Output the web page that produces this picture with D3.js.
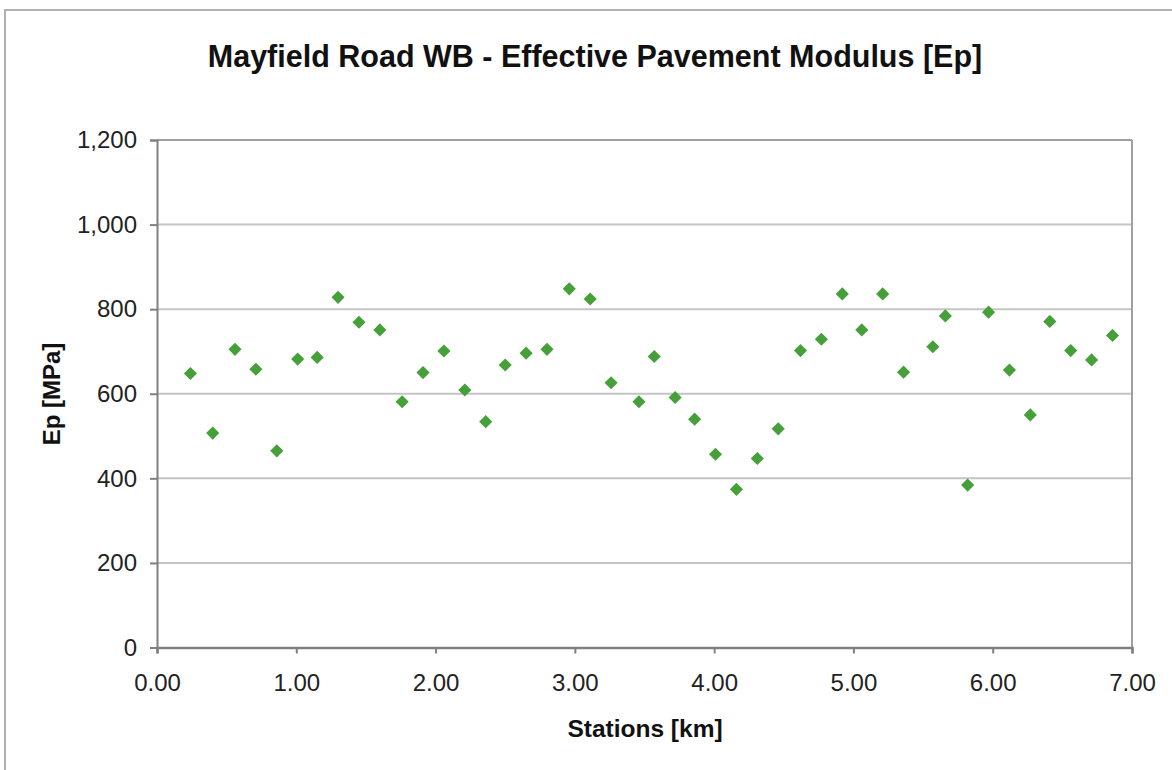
<!DOCTYPE html>
<html>
<head>
<meta charset="utf-8">
<script src="https://cdn.jsdelivr.net/npm/d3@7"></script>
<style>
  html, body { margin: 0; padding: 0; background: #fff; }
  svg { display: block; font-family: "Liberation Sans", Arial, sans-serif; }
</style>
</head>
<body>
<svg id="chart" width="1172" height="770"></svg>
<script>
const titleText = "Mayfield Road WB - Effective Pavement Modulus [Ep]";
const xAxisTitle = "Stations [km]";
const yAxisTitle = "Ep [MPa]";

const stations = [0.24,0.40,0.56,0.71,0.86,1.01,1.15,1.30,1.45,1.60,1.76,1.91,2.06,2.21,2.36,2.50,2.65,2.80,2.96,3.11,3.26,3.46,3.57,3.72,3.86,4.01,4.16,4.31,4.46,4.62,4.77,4.92,5.06,5.21,5.36,5.57,5.66,5.82,5.97,6.12,6.27,6.41,6.56,6.71,6.86];
const epValues = [648,507,705,658,465,682,686,828,769,751,581,650,701,609,534,668,696,705,848,824,626,581,688,591,540,457,374,447,517,702,729,836,751,836,651,711,784,384,793,656,550,771,702,680,738];

const xTicks = [0,1,2,3,4,5,6,7];
const yTicks = [0,200,400,600,800,1000,1200];

const svg = d3.select("#chart");
const plot = { left: 157, right: 1132, top: 140, bottom: 647.5 };

// outer chart frame
svg.append("rect")
  .attr("x", 5).attr("y", 10)
  .attr("width", 1300).attr("height", 900)
  .attr("fill", "#fff").attr("stroke", "#b0b0b0").attr("stroke-width", 2);

const x = d3.scaleLinear().domain([0, 7]).range([plot.left, plot.right]);
const y = d3.scaleLinear().domain([0, 1200]).range([plot.bottom, plot.top]);

// gridlines
svg.append("g")
  .selectAll("line")
  .data(yTicks.filter(d => d > 0))
  .join("line")
  .attr("x1", plot.left).attr("x2", plot.right)
  .attr("y1", d => y(d)).attr("y2", d => y(d))
  .attr("stroke", d => d === 1200 ? "#a0a0a0" : "#c4c4c4")
  .attr("stroke-width", 2);

// right border of plot area
svg.append("line")
  .attr("x1", plot.right).attr("x2", plot.right)
  .attr("y1", plot.top).attr("y2", plot.bottom)
  .attr("stroke", "#a0a0a0").attr("stroke-width", 2);

// y axis
const yAxis = d3.axisLeft(y).tickValues(yTicks).tickSize(7).tickPadding(13)
  .tickFormat(d3.format(","));
const gy = svg.append("g").attr("transform", `translate(${plot.left},0)`).call(yAxis);
gy.select(".domain").attr("stroke", "#808080").attr("stroke-width", 2);
gy.selectAll(".tick line").attr("stroke", "#808080").attr("stroke-width", 2);
gy.selectAll(".tick text").attr("font-size", 24).attr("fill", "#222")
  .attr("font-family", "'Liberation Sans', Arial, sans-serif");

// x axis
const xAxis = d3.axisBottom(x).tickValues(xTicks).tickSize(6).tickPadding(20)
  .tickFormat(d3.format(".2f"));
const gx = svg.append("g").attr("transform", `translate(0,${plot.bottom})`).call(xAxis);
gx.select(".domain").attr("stroke", "#808080").attr("stroke-width", 2.5);
gx.selectAll(".tick line").attr("stroke", "#808080").attr("stroke-width", 2);
gx.selectAll(".tick text").attr("font-size", 24).attr("fill", "#222")
  .attr("font-family", "'Liberation Sans', Arial, sans-serif");

// points
const diamond = d3.symbol().type(d3.symbolDiamond2).size(110);
svg.append("g")
  .selectAll("path")
  .data(stations.map((s, i) => ({ s, v: epValues[i] })))
  .join("path")
  .attr("d", diamond)
  .attr("transform", d => `translate(${x(d.s)},${y(d.v)})`)
  .attr("fill", "#46a03a");

// title
svg.append("text")
  .attr("x", 595).attr("y", 67)
  .attr("text-anchor", "middle")
  .attr("font-size", 30.5).attr("font-weight", "bold").attr("fill", "#111")
  .text(titleText);

// axis titles
svg.append("text")
  .attr("x", 645).attr("y", 737)
  .attr("text-anchor", "middle")
  .attr("font-size", 24.5).attr("font-weight", "bold").attr("fill", "#111")
  .text(xAxisTitle);

svg.append("text")
  .attr("transform", "translate(60,394) rotate(-90)")
  .attr("text-anchor", "middle")
  .attr("font-size", 24).attr("font-weight", "bold").attr("fill", "#111")
  .text(yAxisTitle);
</script>
</body>
</html>
